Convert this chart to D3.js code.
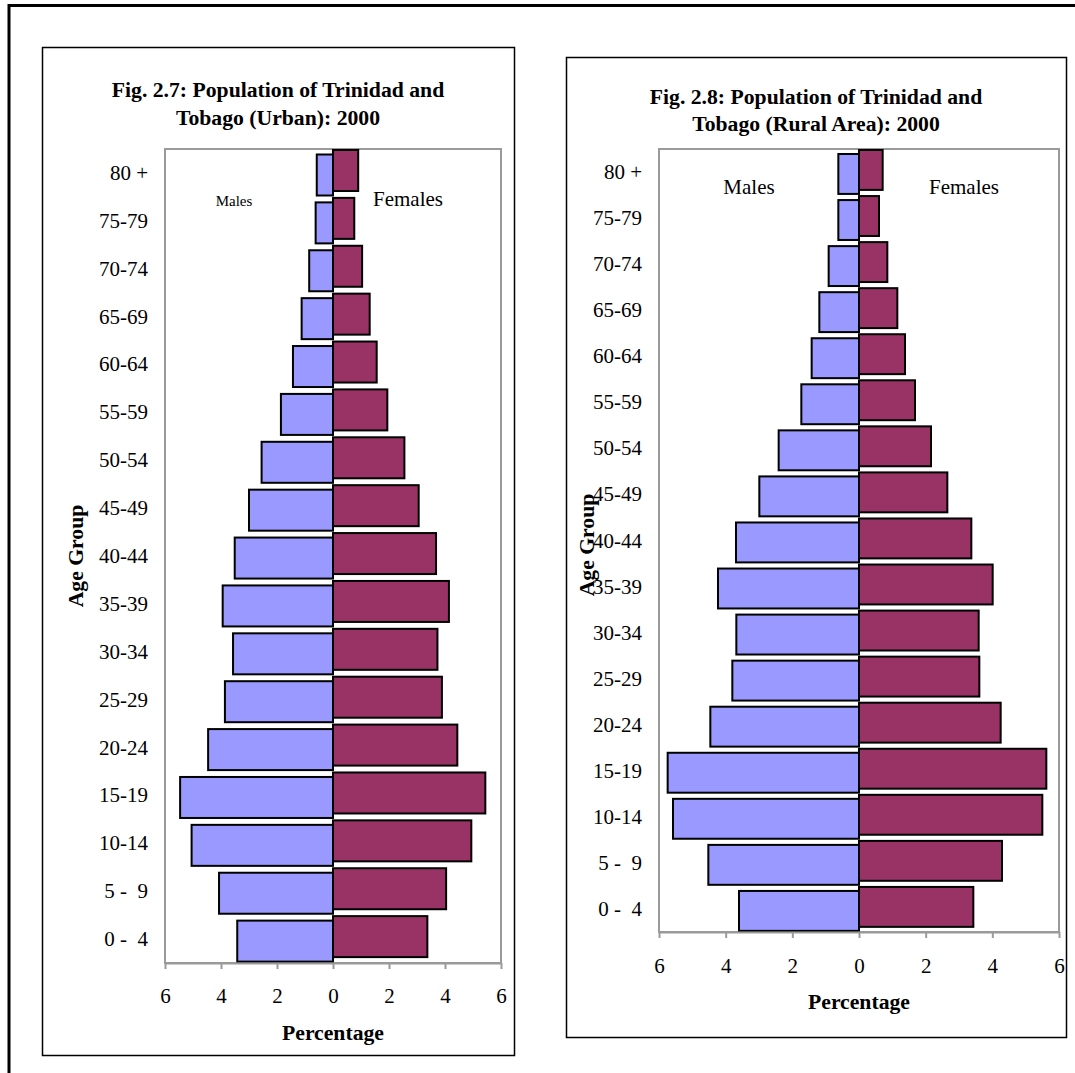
<!DOCTYPE html>
<html>
<head>
<meta charset="utf-8">
<script src="https://cdn.jsdelivr.net/npm/d3@7"></script>
<style>
  html, body { margin: 0; padding: 0; background: #fff; }
  svg { display: block; font-family: "Liberation Serif", "Times New Roman", serif; }
  .age-label { white-space: pre; }
</style>
</head>
<body>
<svg id="chart" width="1075" height="1073"></svg>
<script>
// Age groups, youngest first
const ageGroups = ["0 -  4", "5 -  9", "10-14", "15-19", "20-24", "25-29", "30-34", "35-39",
                   "40-44", "45-49", "50-54", "55-59", "60-64", "65-69", "70-74", "75-79", "80 +"];

// Urban population, percent of total, by age group
const urbanMales   = [3.42, 4.07, 5.05, 5.46, 4.46, 3.86, 3.57, 3.94, 3.51, 3.00, 2.55, 1.86, 1.43, 1.12, 0.85, 0.62, 0.58];
const urbanFemales = [3.37, 4.04, 4.94, 5.44, 4.44, 3.89, 3.73, 4.14, 3.68, 3.06, 2.55, 1.94, 1.56, 1.31, 1.04, 0.76, 0.90];

// Rural population, percent of total, by age group
const ruralMales   = [3.60, 4.52, 5.58, 5.74, 4.46, 3.80, 3.68, 4.23, 3.69, 2.99, 2.41, 1.73, 1.42, 1.19, 0.91, 0.62, 0.62];
const ruralFemales = [3.43, 4.29, 5.50, 5.62, 4.25, 3.61, 3.59, 4.01, 3.37, 2.65, 2.16, 1.68, 1.38, 1.15, 0.85, 0.60, 0.71];

// Percentage axis ticks (left side shown as positive numbers)
const xTicks = [-6, -4, -2, 0, 2, 4, 6];

const maleFill = "#9999FF";
const femaleFill = "#993366";
const gridGray = "#9a9a9a";
const FONT = 21;
const TITLE_FONT = 21.7;

const svg = d3.select("#chart");

// Page frame
svg.append("rect")
  .attr("x", 9).attr("y", 5.5)
  .attr("width", 1200).attr("height", 1200)
  .attr("fill", "none").attr("stroke", "#000").attr("stroke-width", 3);

function drawPyramid(cfg) {
  const g = svg.append("g");

  // Chart box
  g.append("rect")
    .attr("x", cfg.box.x + 0.5).attr("y", cfg.box.y + 0.5)
    .attr("width", cfg.box.w).attr("height", cfg.box.h)
    .attr("fill", "#fff").attr("stroke", "#000").attr("stroke-width", 1.5);

  // Title
  cfg.title.forEach((line, i) => {
    g.append("text")
      .attr("x", cfg.titleX).attr("y", cfg.titleY[i])
      .attr("text-anchor", "middle")
      .attr("font-weight", "bold").attr("font-size", TITLE_FONT)
      .text(line);
  });

  const x = d3.scaleLinear().domain([-6, 6]).range([cfg.plot.left, cfg.plot.right]);
  const y = d3.scaleBand().domain(ageGroups.slice().reverse())
    .range([cfg.plot.top, cfg.plot.bottom]).paddingInner(0).paddingOuter(0);
  const bw = y.bandwidth();
  const barH = bw * cfg.barRatio;
  const x0 = x(0);

  // Plot area
  g.append("rect")
    .attr("x", cfg.plot.left).attr("y", cfg.plot.top)
    .attr("width", cfg.plot.right - cfg.plot.left)
    .attr("height", cfg.plot.bottom - cfg.plot.top)
    .attr("fill", "#fff").attr("stroke", gridGray).attr("stroke-width", 2);

  // Male bars (drawn to the left of zero)
  g.append("g").selectAll("rect")
    .data(ageGroups.map((a, i) => ({ age: a, v: cfg.males[i] })))
    .join("rect")
    .attr("x", d => x(-d.v))
    .attr("y", d => y(d.age) + bw * cfg.maleShift + 1)
    .attr("width", d => x0 - x(-d.v))
    .attr("height", barH - 2)
    .attr("fill", maleFill).attr("stroke", "#000").attr("stroke-width", 2);

  // Female bars (drawn to the right of zero)
  g.append("g").selectAll("rect")
    .data(ageGroups.map((a, i) => ({ age: a, v: cfg.females[i] })))
    .join("rect")
    .attr("x", x0)
    .attr("y", d => y(d.age) + 1)
    .attr("width", d => x(d.v) - x0)
    .attr("height", barH - 2)
    .attr("fill", femaleFill).attr("stroke", "#000").attr("stroke-width", 2);

  // Age group labels
  g.append("g").selectAll("text")
    .data(ageGroups)
    .join("text")
    .attr("class", "age-label")
    .attr("x", cfg.plot.left - 17)
    .attr("y", d => y(d) + bw / 2 + 7)
    .attr("text-anchor", "end")
    .attr("font-size", FONT)
    .text(d => d);

  // Percentage axis
  const axis = d3.axisBottom(x)
    .tickValues(xTicks)
    .tickFormat(d => Math.abs(d))
    .tickSize(6).tickSizeOuter(0);
  const ax = g.append("g")
    .attr("transform", `translate(0,${cfg.plot.bottom})`)
    .call(axis);
  ax.select(".domain").attr("stroke", gridGray).attr("stroke-width", 2);
  ax.selectAll(".tick line").attr("stroke", gridGray).attr("stroke-width", 2);
  ax.selectAll(".tick text")
    .attr("font-family", "Liberation Serif, Times New Roman, serif")
    .attr("font-size", FONT).attr("fill", "#000")
    .attr("dy", null)
    .attr("y", cfg.tickLabelY - cfg.plot.bottom);

  // Axis titles
  g.append("text")
    .attr("x", x0).attr("y", cfg.xTitleY)
    .attr("text-anchor", "middle")
    .attr("font-weight", "bold").attr("font-size", TITLE_FONT)
    .text("Percentage");

  g.append("text")
    .attr("transform", `translate(${cfg.yTitle.x},${cfg.yTitle.y}) rotate(-90)`)
    .attr("text-anchor", "middle")
    .attr("font-weight", "bold").attr("font-size", TITLE_FONT)
    .text("Age Group");

  // Sex labels
  g.append("text")
    .attr("x", cfg.malesLabel.x).attr("y", cfg.malesLabel.y)
    .attr("text-anchor", "middle").attr("font-size", cfg.malesLabel.size)
    .text("Males");
  g.append("text")
    .attr("x", cfg.femalesLabel.x).attr("y", cfg.femalesLabel.y)
    .attr("text-anchor", "middle").attr("font-size", cfg.femalesLabel.size)
    .text("Females");
}

drawPyramid({
  box: { x: 42, y: 47, w: 472, h: 1008 },
  title: ["Fig. 2.7: Population of Trinidad and", "Tobago (Urban): 2000"],
  titleX: 278, titleY: [97, 125],
  plot: { left: 165, right: 501, top: 149, bottom: 963 },
  barRatio: 0.898, maleShift: 0.094,
  males: urbanMales, females: urbanFemales,
  tickLabelY: 1003, xTitleY: 1040,
  yTitle: { x: 83, y: 556 },
  malesLabel: { x: 234, y: 206, size: 15 },
  femalesLabel: { x: 408, y: 206, size: FONT }
});

drawPyramid({
  box: { x: 566, y: 57, w: 500, h: 980 },
  title: ["Fig. 2.8: Population of Trinidad and", "Tobago (Rural Area): 2000"],
  titleX: 816, titleY: [104, 131],
  plot: { left: 659, right: 1059, top: 149, bottom: 932 },
  barRatio: 0.91, maleShift: 0.087,
  males: ruralMales, females: ruralFemales,
  tickLabelY: 973, xTitleY: 1009,
  yTitle: { x: 594, y: 545 },
  malesLabel: { x: 749, y: 194, size: FONT },
  femalesLabel: { x: 964, y: 194, size: FONT }
});
</script>
</body>
</html>
